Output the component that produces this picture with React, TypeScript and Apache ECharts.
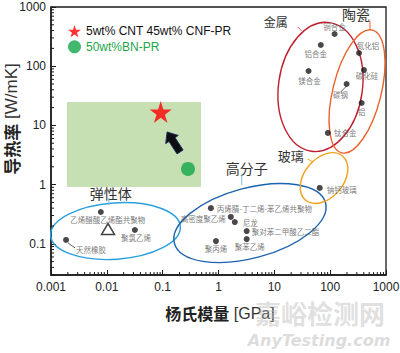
import React, { useEffect, useRef } from 'react';
import * as echarts from 'echarts';

// ---------- axes ----------
const X_MIN = 0.001;
const X_MAX = 1000;
const Y_MIN = 0.0297;
const Y_MAX = 1000;
const xTickLabels = ['0.001', '0.01', '0.1', '1', '10', '100', '1000']; // 10^-3 .. 10^3
const yTickLabels = ['0.1', '1', '10', '100', '1000']; // 10^-1 .. 10^3
const xAxisTitleBold = '杨氏模量';
const xAxisTitleUnit = ' [GPa]';
const yAxisTitleBold = '导热率';
const yAxisTitleUnit = ' [W/mK]';

// ---------- material points ----------
const pointNames = [
  '铜合金', '铝合金', '镁合金', '钛合金',
  '氮化铝', '碳化硅', '碳钢', '铝',
  '钠钙玻璃',
  '丙烯腈-丁二烯-苯乙烯共聚物', '高密度聚乙烯', '尼龙', '聚对苯二甲酸乙二酯', '聚丙烯', '聚苯乙烯',
  '乙烯醋酸乙烯酯共聚物', '聚氯乙烯', '天然橡胶',
];
const pointModulus = [120, 68, 41, 91, 329, 403, 197, 366, 65, 0.73, 1.66, 1.96, 3.2, 0.9, 3.2, 0.0078, 0.0318, 0.00186];
const pointConductivity = [350, 228, 83, 7.45, 167, 86, 50, 23.9, 0.877, 0.4, 0.284, 0.233, 0.164, 0.111, 0.12, 0.344, 0.171, 0.116];
const labelPlacement = ['top', 'bottom', 'bottom', 'right', 'top', 'bottom', 'bottom', 'bottom', 'right', 'right', 'left', 'right', 'right', 'bottom', 'bottom', 'bottom', 'bottom', 'right'];
const labelDistance = [1, 2, 3, 3, 1, 0, 4, 2, 4, 3, 2, 5, 2, 1, 1, 1, 1, 7];
const labelOffset = [[0, 0], [-5, 0], [1, 0], [0, 0], [9, 0], [3, -1], [-6, 0], [0, 0], [0, 2], [0, 0], [0, 2], [0, 0], [0, 0], [0, 0], [3, 0], [7, 0], [1, 0], [0, 10]];
const pointLeaderIndex = [6, 17];
const pointLeaderOffset = [[0, 2, -6, 8], [2, 3, 9, 8]];

// ---------- groups (ellipses) ----------
const groupNames = ['弹性体', '高分子', '玻璃', '金属', '陶瓷'];
const ellipseCenterE = [0.0143, 3.66, 77.6, 67.1, 303];
const ellipseCenterK = [0.164, 0.224, 1.29, 44.6, 37.4];
const ellipseMajor = [1.13, 1.36, 0.5, 1.13, 1.1]; // decades
const ellipseMinor = [0.49, 0.61, 0.34, 0.73, 0.42]; // decades
const ellipseAngle = [4, 15, 50, 82, 76]; // degrees, counter-clockwise
const ellipseColors = ['#2ba0dc', '#1d62ae', '#f0a21e', '#bf1e2e', '#e8622a'];
const groupLabelE = [0.0118, 3.2, 19.6, 10.6, 290];
const groupLabelK = [0.72, 1.9, 3.16, 559, 775];
const groupLabelSize = [14, 14, 13, 12, 14];
const groupLeaderOffset = [[-2, 5, -2, 12], [-5, 7, -5, 17], [17, 4, 22, 7], [22, 5, 26, 9], [14, 7, 14, 16]];
const groupLeaderColors = ['#6fbde6', '#7fc0e4', '#f0a21e', '#d5556a', '#e8622a'];

// ---------- highlighted samples ----------
const LEGEND_STAR = '5wt% CNT 45wt% CNF-PR';
const LEGEND_BN = '50wt%BN-PR';
const starPoint = [0.0923, 16.8];
const bnPoint = [0.284, 1.84];
const resinPoint = [0.0105, 0.178];
const arrowFromTo = [0.205, 3.56, 0.12, 7.74];
const highlightBox = [0.00193, 24.8, 0.486, 0.912];

const STAR_PATH = 'path://M50,0 L61.2,34.5 L97.6,34.5 L68.2,55.9 L79.4,90.5 L50,69.1 L20.6,90.5 L31.8,55.9 L2.4,34.5 L38.8,34.5 Z';
const CJK = "'Noto Sans CJK SC', sans-serif";
const LATIN = "'Liberation Sans', Arial, 'Noto Sans CJK SC', sans-serif";

function tickFormatter(labels: string[], offset: number) {
  return (v: number) => {
    const p = Math.log10(v);
    const r = Math.round(p);
    if (Math.abs(p - r) > 1e-6) return '';
    return labels[r + offset] ?? '';
  };
}

function buildOption(): any {
  const minorX: number[][] = [];
  for (let d = -3; d < 3; d++) for (let m = 2; m <= 9; m++) minorX.push([m * Math.pow(10, d), Y_MIN, 0]);
  for (let d = -2; d < 3; d++)
    for (let m = 2; m <= 9; m++) {
      const v = m * Math.pow(10, d);
      if (v > Y_MIN) minorX.push([X_MIN, v, 1]);
    }

  const materialData = pointNames.map((n, i) => ({
    name: n,
    value: [pointModulus[i], pointConductivity[i]],
    label: { position: labelPlacement[i], distance: labelDistance[i], offset: labelOffset[i] },
  }));

  const decadePx = (api: any) => {
    const a = api.coord([1, 1]);
    const bx = api.coord([10, 1]);
    const by = api.coord([1, 10]);
    return ((bx[0] - a[0]) + (a[1] - by[1])) / 2;
  };

  return {
    animation: false,
    backgroundColor: '#ffffff',
    grid: {
      left: 51, right: 14, top: 7, bottom: 78,
      show: true, borderColor: '#1a1a1a', borderWidth: 1.3, backgroundColor: 'transparent',
      outerBoundsMode: 'none',
    },
    xAxis: {
      type: 'log', logBase: 10, min: X_MIN, max: X_MAX,
      axisLine: { show: true, onZero: false, lineStyle: { color: '#1a1a1a', width: 1.5 } },
      axisTick: { show: true, inside: true, length: 5, lineStyle: { color: '#1a1a1a', width: 1 } },
      axisLabel: { formatter: tickFormatter(xTickLabels, 3), color: '#222', fontSize: 12, fontFamily: LATIN, margin: 6, showMinLabel: true, showMaxLabel: true },
      splitLine: { show: false },
    },
    yAxis: {
      type: 'log', logBase: 10, min: Y_MIN, max: Y_MAX,
      axisLine: { show: true, onZero: false, lineStyle: { color: '#1a1a1a', width: 1.5 } },
      axisTick: { show: true, inside: true, length: 5, lineStyle: { color: '#1a1a1a', width: 1 } },
      axisLabel: { formatter: tickFormatter(yTickLabels, 1), color: '#222', fontSize: 12, fontFamily: LATIN, margin: 5 },
      splitLine: { show: false },
    },
    legend: {
      show: true, orient: 'vertical', left: 63, top: 20,
      itemWidth: 13, itemHeight: 13, itemGap: 3, selectedMode: false,
      textStyle: { fontSize: 12, fontFamily: LATIN, color: '#111' },
      data: [
        { name: LEGEND_STAR, icon: STAR_PATH, textStyle: { color: '#111' } },
        { name: LEGEND_BN, icon: 'circle', textStyle: { color: '#1ea54b' } },
      ],
    },
    series: [
      {
        type: 'custom', name: 'box', silent: true, z: 1,
        data: [highlightBox],
        encode: { x: 0, y: 1 },
        renderItem: (_p: any, api: any) => {
          const a = api.coord([api.value(0), api.value(1)]);
          const b = api.coord([api.value(2), api.value(3)]);
          return {
            type: 'rect',
            shape: { x: a[0], y: a[1], width: b[0] - a[0], height: b[1] - a[1] },
            style: { fill: '#c6e0b4' },
          };
        },
      },
      {
        type: 'custom', name: 'groups', silent: true, z: 2,
        data: ellipseCenterE.map((e, i) => [e, ellipseCenterK[i]]),
        encode: { x: 0, y: 1 },
        renderItem: (params: any, api: any) => {
          const i = params.dataIndex;
          const c = api.coord([api.value(0), api.value(1)]);
          const s = decadePx(api);
          return {
            type: 'ellipse',
            x: c[0], y: c[1],
            rotation: (ellipseAngle[i] * Math.PI) / 180,
            shape: { cx: 0, cy: 0, rx: ellipseMajor[i] * s, ry: ellipseMinor[i] * s },
            style: { fill: 'none', stroke: ellipseColors[i], lineWidth: 1.4 },
          };
        },
      },
      {
        type: 'custom', name: 'groupLabels', silent: true, z: 3,
        data: groupLabelE.map((e, i) => [e, groupLabelK[i]]),
        encode: { x: 0, y: 1 },
        renderItem: (params: any, api: any) => {
          const i = params.dataIndex;
          const c = api.coord([api.value(0), api.value(1)]);
          const o = groupLeaderOffset[i];
          return {
            type: 'group',
            children: [
              {
                type: 'text', x: c[0], y: c[1],
                style: { text: groupNames[i], fill: '#333', fontSize: groupLabelSize[i], fontFamily: CJK, align: 'center', verticalAlign: 'middle' },
              },
              {
                type: 'line',
                shape: { x1: c[0] + o[0], y1: c[1] + o[1], x2: c[0] + o[2], y2: c[1] + o[3] },
                style: { stroke: groupLeaderColors[i], lineWidth: 1 },
              },
            ],
          };
        },
      },
      {
        type: 'custom', name: 'pointLeaders', silent: true, z: 3,
        data: pointLeaderIndex.map((idx) => [pointModulus[idx], pointConductivity[idx]]),
        encode: { x: 0, y: 1 },
        renderItem: (params: any, api: any) => {
          const o = pointLeaderOffset[params.dataIndex];
          const c = api.coord([api.value(0), api.value(1)]);
          return {
            type: 'line',
            shape: { x1: c[0] + o[0], y1: c[1] + o[1], x2: c[0] + o[2], y2: c[1] + o[3] },
            style: { stroke: '#333', lineWidth: 0.8 },
          };
        },
      },
      {
        type: 'scatter', name: 'materials', z: 4, silent: true,
        symbol: 'circle', symbolSize: 6,
        itemStyle: { color: '#1a1a1a' },
        label: { show: true, formatter: '{b}', fontSize: 7.5, color: '#555', fontFamily: CJK },
        data: materialData,
      },
      {
        type: 'scatter', name: 'resin', z: 5, silent: true,
        symbol: 'triangle', symbolSize: [13, 11],
        itemStyle: { color: '#ffffff', borderColor: '#111', borderWidth: 1.5 },
        data: [resinPoint],
      },
      {
        type: 'scatter', name: LEGEND_STAR, z: 6, silent: true,
        symbol: STAR_PATH, symbolSize: 22,
        itemStyle: { color: '#ff0000' },
        data: [starPoint],
      },
      {
        type: 'scatter', name: LEGEND_BN, z: 6, silent: true,
        symbol: 'circle', symbolSize: 14,
        itemStyle: { color: '#12a64a' },
        data: [bnPoint],
      },
      {
        type: 'custom', name: 'arrow', silent: true, z: 6,
        data: [arrowFromTo],
        encode: { x: 0, y: 1 },
        renderItem: (_p: any, api: any) => {
          const p1 = api.coord([api.value(0), api.value(1)]);
          const p2 = api.coord([api.value(2), api.value(3)]);
          const dx = p2[0] - p1[0];
          const dy = p2[1] - p1[1];
          const len = Math.sqrt(dx * dx + dy * dy);
          const ux = dx / len, uy = dy / len;
          const nx = -uy, ny = ux;
          const sw = 3.6, hw = 7.5, hl = 9;
          const nk = [p2[0] - ux * hl, p2[1] - uy * hl];
          const pts = [
            [p1[0] + nx * sw, p1[1] + ny * sw],
            [nk[0] + nx * sw, nk[1] + ny * sw],
            [nk[0] + nx * hw, nk[1] + ny * hw],
            [p2[0], p2[1]],
            [nk[0] - nx * hw, nk[1] - ny * hw],
            [nk[0] - nx * sw, nk[1] - ny * sw],
            [p1[0] - nx * sw, p1[1] - ny * sw],
          ];
          return {
            type: 'polygon',
            shape: { points: pts },
            style: { fill: '#0d0d12', stroke: '#22305e', lineWidth: 1 },
          };
        },
      },
      {
        type: 'custom', name: 'minorTicks', silent: true, z: 7,
        data: minorX,
        encode: { x: 0, y: 1 },
        renderItem: (_p: any, api: any) => {
          const c = api.coord([api.value(0), api.value(1)]);
          const vertical = api.value(2) === 0;
          return {
            type: 'line',
            shape: vertical
              ? { x1: c[0], y1: c[1], x2: c[0], y2: c[1] - 3 }
              : { x1: c[0], y1: c[1], x2: c[0] + 3, y2: c[1] },
            style: { stroke: '#1a1a1a', lineWidth: 1 },
          };
        },
      },
    ],
    graphic: [
      {
        type: 'text', x: 11, y: 119, rotation: Math.PI / 2, z: 10,
        style: {
          text: `{b|${yAxisTitleBold}}${yAxisTitleUnit}`,
          fontSize: 17, fontFamily: LATIN, fill: '#333',
          align: 'center', verticalAlign: 'middle',
          rich: { b: { fontSize: 17, fontWeight: 'bold', fontFamily: CJK, fill: '#222', color: '#222' } },
        },
      },
      {
        type: 'text', x: 220, y: 313, z: 10,
        style: {
          text: `{b|${xAxisTitleBold}}${xAxisTitleUnit}`,
          fontSize: 16, fontFamily: LATIN, fill: '#333',
          align: 'center', verticalAlign: 'middle',
          rich: { b: { fontSize: 16, fontWeight: 'bold', fontFamily: CJK, fill: '#222', color: '#222' } },
        },
      },
      {
        type: 'text', x: 320, y: 312, z: 11,
        style: {
          text: '嘉峪检测网', fontSize: 26, fontWeight: 'bold', fontFamily: CJK,
          fill: 'rgba(185,185,185,0.45)', align: 'center', verticalAlign: 'middle',
        },
      },
      {
        type: 'text', x: 319, y: 340, z: 11,
        style: {
          text: 'AnyTesting.com', fontSize: 16, fontWeight: 'bold', fontStyle: 'italic', fontFamily: "'DejaVu Sans', sans-serif",
          fill: 'rgba(185,185,185,0.5)', align: 'center', verticalAlign: 'middle',
        },
      },
    ],
  };
}

export default function App() {
  const ref = useRef<HTMLDivElement>(null);
  useEffect(() => {
    if (!ref.current) return;
    const chart = echarts.init(ref.current, undefined, { renderer: 'svg' });
    chart.setOption(buildOption());
    return () => chart.dispose();
  }, []);
  return (
    <div
      ref={ref}
      style={{ position: 'absolute', left: 0, top: 0, width: 400, height: 353, background: '#fff' }}
    />
  );
}
